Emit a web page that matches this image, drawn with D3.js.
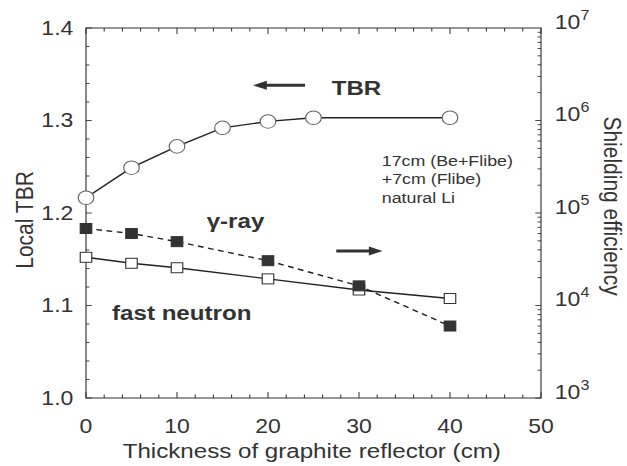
<!DOCTYPE html>
<html>
<head>
<meta charset="utf-8">
<script src="https://cdn.jsdelivr.net/npm/d3@7"></script>
<style>
  html, body { margin: 0; padding: 0; background: #fff; }
  svg { display: block; }
  text { font-family: "Liberation Sans", Arial, sans-serif; fill: #333; }
</style>
</head>
<body>
<script>
// the scanned figure is stretched sideways, so draw in a narrower box and let it stretch
var stretch = 1.15;
var width = 627, height = 466;
var vw = width / stretch;

// data
var tbrX = [0, 5, 10, 15, 20, 25, 40];
var tbrY = [1.2165, 1.249, 1.272, 1.292, 1.299, 1.303, 1.303];

var gammaX = [0, 5, 10, 20, 30, 40];
var gammaY = [68000, 60000, 49000, 30500, 16300, 6000];

var neutronX = [0, 5, 10, 20, 30, 40];
var neutronY = [33200, 28600, 25600, 19400, 14700, 11900];

var xTicks = [0, 10, 20, 30, 40, 50];
var leftTicks = [1.0, 1.1, 1.2, 1.3, 1.4];
var rightExp = [3, 4, 5, 6, 7];

var noteLines = ['17cm (Be+Flibe)', '+7cm (Flibe)', 'natural Li'];

var svg = d3.select('body').append('svg')
    .attr('width', width).attr('height', height)
    .attr('viewBox', '0 0 ' + vw + ' ' + height)
    .attr('preserveAspectRatio', 'none');

var x = d3.scaleLinear().domain([0, 50]).range([86 / stretch, 541 / stretch]);
var yL = d3.scaleLinear().domain([1.0, 1.4]).range([398, 28]);
var yR = d3.scaleLog().domain([1e3, 1e7]).range([398, 28]);

var axisColor = '#333';

// frame
svg.append('rect')
    .attr('x', x(0)).attr('y', yL(1.4))
    .attr('width', x(50) - x(0)).attr('height', yL(1.0) - yL(1.4))
    .attr('fill', 'none').attr('stroke', axisColor).attr('stroke-width', 1);

// ticks, all pointing inward
var g = svg.append('g').attr('stroke', axisColor).attr('stroke-width', 0.9);
d3.range(0, 50.01, 2).forEach(function (v) {
    var major = v % 10 === 0;
    var len = major ? 6 : 3.5;
    g.append('line').attr('x1', x(v)).attr('x2', x(v)).attr('y1', yL(1.0)).attr('y2', yL(1.0) - len);
    g.append('line').attr('x1', x(v)).attr('x2', x(v)).attr('y1', yL(1.4)).attr('y2', yL(1.4) + len);
});
d3.range(0, 20.5).forEach(function (i) {
    var v = 1.0 + i * 0.02;
    var major = i % 5 === 0;
    var len = major ? 5 : 3;
    g.append('line').attr('x1', x(0)).attr('x2', x(0) + len).attr('y1', yL(v)).attr('y2', yL(v));
});
for (var e = 3; e < 7; e++) {
    for (var m = 1; m < 10; m++) {
        var v = m * Math.pow(10, e);
        var len = m === 1 ? 5 : 3;
        g.append('line').attr('x1', x(50)).attr('x2', x(50) - len).attr('y1', yR(v)).attr('y2', yR(v));
    }
}

// tick labels
svg.selectAll('.xl').data(xTicks).enter().append('text')
    .attr('x', function (d) { return x(d); }).attr('y', 433)
    .attr('text-anchor', 'middle').attr('font-size', 20)
    .text(function (d) { return d; });

svg.selectAll('.ll').data(leftTicks).enter().append('text')
    .attr('x', x(0) - 11).attr('y', function (d) { return yL(d); })
    .attr('dy', '0.35em').attr('text-anchor', 'end').attr('font-size', 20)
    .text(function (d) { return d.toFixed(1); });

var rl = svg.selectAll('.rl').data(rightExp).enter().append('text')
    .attr('x', x(50) + 12).attr('y', function (d) { return yR(Math.pow(10, d)) + 1; })
    .attr('font-size', 20);
rl.append('tspan').text('10');
rl.append('tspan').attr('font-size', 14).attr('dy', -9).text(function (d) { return d; });

// axis titles
svg.append('text')
    .attr('x', (x(0) + x(50)) / 2 - 1.5).attr('y', 458)
    .attr('text-anchor', 'middle').attr('font-size', 21)
    .text('Thickness of graphite reflector (cm)');

svg.append('text')
    .attr('transform', 'translate(' + (33 / stretch) + ',220) rotate(-90)')
    .attr('text-anchor', 'middle').attr('font-size', 21)
    .text('Local TBR');

svg.append('text')
    .attr('transform', 'translate(' + (604 / stretch) + ',206) rotate(90)')
    .attr('text-anchor', 'middle').attr('font-size', 21)
    .text('Shielding efficiency');

// series lines
var tbrPts = tbrX.map(function (d, i) { return [x(d), yL(tbrY[i])]; });
var gammaPts = gammaX.map(function (d, i) { return [x(d), yR(gammaY[i])]; });
var neutronPts = neutronX.map(function (d, i) { return [x(d), yR(neutronY[i])]; });
var line = d3.line();

svg.append('path').attr('d', line(neutronPts))
    .attr('fill', 'none').attr('stroke', '#222').attr('stroke-width', 1.4);
svg.append('path').attr('d', line(gammaPts))
    .attr('fill', 'none').attr('stroke', '#222').attr('stroke-width', 1.4)
    .attr('stroke-dasharray', '5,4');
svg.append('path').attr('d', line(tbrPts))
    .attr('fill', 'none').attr('stroke', '#222').attr('stroke-width', 1.4);

// markers
var sq = 10;
svg.selectAll('.nm').data(neutronPts).enter().append('rect')
    .attr('x', function (d) { return d[0] - sq / 2; }).attr('y', function (d) { return d[1] - sq / 2; })
    .attr('width', sq).attr('height', sq)
    .attr('fill', '#fff').attr('stroke', '#333').attr('stroke-width', 1);
svg.selectAll('.gm').data(gammaPts).enter().append('rect')
    .attr('x', function (d) { return d[0] - sq / 2; }).attr('y', function (d) { return d[1] - sq / 2; })
    .attr('width', sq).attr('height', sq)
    .attr('fill', '#333').attr('stroke', '#333').attr('stroke-width', 1);
svg.selectAll('.tm').data(tbrPts).enter().append('circle')
    .attr('cx', function (d) { return d[0]; }).attr('cy', function (d) { return d[1]; })
    .attr('r', 6.8)
    .attr('fill', '#fff').attr('stroke', '#666').attr('stroke-width', 1);

// arrows pointing to the axis each curve belongs to
function arrow(x1, x2, yv) {
    var px1 = x(x1), px2 = x(x2), py = yL(yv);
    var dir = px2 > px1 ? 1 : -1;
    var head = 12;
    svg.append('line')
        .attr('x1', px1).attr('x2', px2 - dir * head * 0.8).attr('y1', py).attr('y2', py)
        .attr('stroke', '#333').attr('stroke-width', 3);
    svg.append('path')
        .attr('d', 'M' + px2 + ',' + py + 'L' + (px2 - dir * head) + ',' + (py - 4.5) +
            'L' + (px2 - dir * head) + ',' + (py + 4.5) + 'Z')
        .attr('fill', '#333');
}
arrow(24.07, 18.35, 1.338);
arrow(27.5, 32.6, 1.159);

// labels inside the plot
svg.append('text').attr('x', x(27.0)).attr('y', yL(1.3276))
    .attr('font-size', 21).attr('font-weight', 'bold').text('TBR');
svg.append('text').attr('x', x(13.26)).attr('y', yL(1.1835))
    .attr('font-size', 21).attr('font-weight', 'bold').text('γ-ray');
svg.append('text').attr('x', x(2.86)).attr('y', yL(1.0843))
    .attr('font-size', 21).attr('font-weight', 'bold').text('fast neutron');

svg.selectAll('.note').data(noteLines).enter().append('text')
    .attr('x', x(32.5)).attr('y', function (d, i) { return 166 + i * 18.5; })
    .attr('font-size', 15.5)
    .text(function (d) { return d; });
</script>
</body>
</html>
